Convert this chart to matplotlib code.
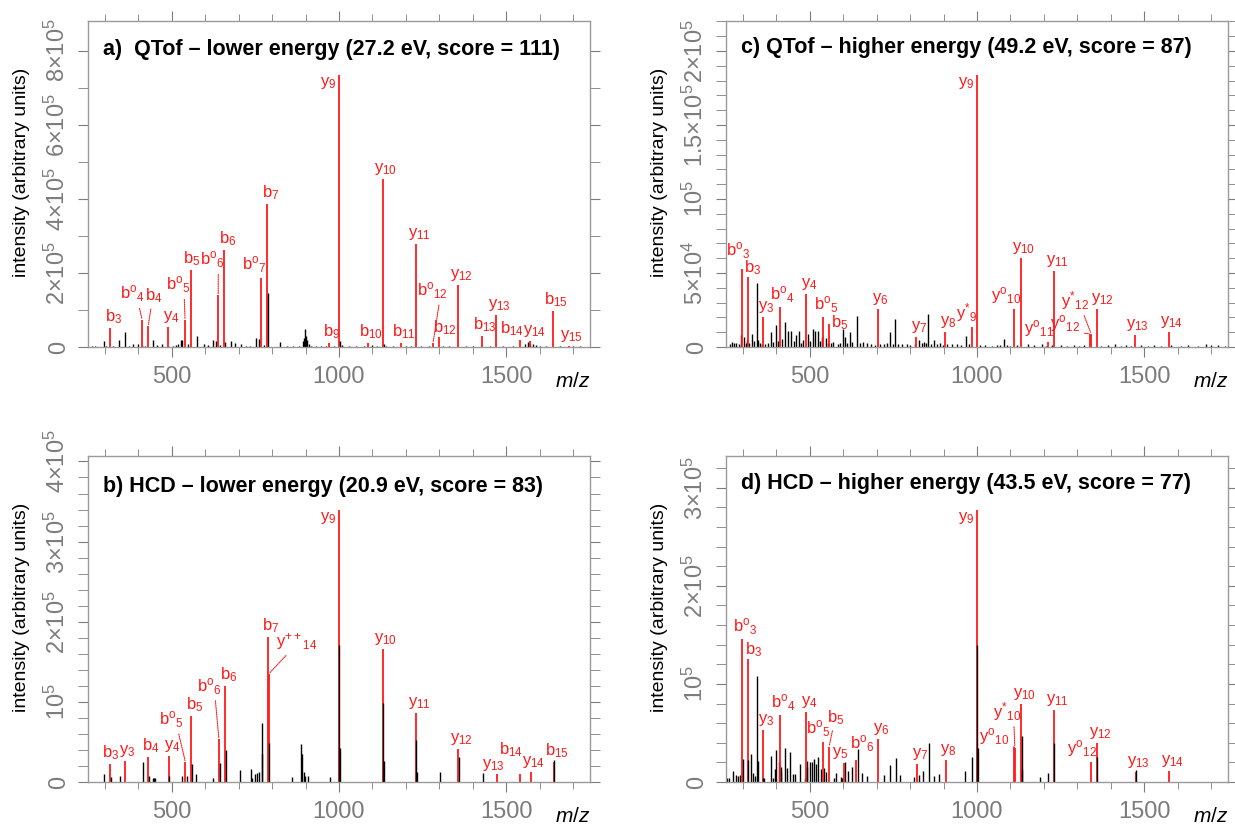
import re
import numpy as np
import matplotlib
matplotlib.use('Agg')
import matplotlib.pyplot as plt
from matplotlib.ticker import MultipleLocator

plt.rcParams['font.family'] = ['Liberation Sans', 'DejaVu Sans']
plt.rcParams['mathtext.fontset'] = 'custom'
plt.rcParams['mathtext.rm'] = 'Liberation Sans'
plt.rcParams['mathtext.it'] = 'Liberation Sans:italic'

RED = '#ff1a1a'
GREY = '#7c7c7c'

# ---------------- a) QTof - lower energy ----------------
a_title = 'a)  QTof \u2013 lower energy (27.2 eV, score = 111)'
a_ions = ['b3', 'bo4', 'b4', 'y4', 'bo5', 'b5', 'bo6', 'b6', 'bo7', 'b7', 'b9', 'y9', 'b10',
          'y10', 'b11', 'y11', 'bo12', 'b12', 'y12', 'b13', 'y13', 'b14', 'y14', 'b15', 'y15']
a_ion_mz = [317, 412, 430, 489, 540, 559, 639, 657, 768, 786, 969, 1000, 1086,
            1131, 1186, 1230, 1281, 1298, 1357, 1427, 1470, 1541, 1572, 1639, 1686]
a_ion_int = [5.1e4, 7.2e4, 5.7e4, 5.4e4, 7.2e4, 2.09e5, 1.39e5, 2.61e5, 1.85e5, 3.87e5, 1.0e4, 7.33e5, 1.2e4,
             4.54e5, 1.0e4, 2.79e5, 1.1e4, 2.7e4, 1.68e5, 3.1e4, 8.5e4, 1.8e4, 1.6e4, 9.6e4, 3e3]
a_bk_mz = [262, 270, 298, 305, 325, 343, 361, 372, 384, 399, 412, 420, 444, 455, 472, 490, 505, 512,
           520, 528, 532, 548, 576, 596, 610, 623, 631, 645, 660, 677, 690, 707, 722, 735, 753, 761,
           775, 825, 845, 862, 880, 891, 895, 898, 901, 905, 909, 915, 930, 945, 960, 985, 1010, 1030,
           1050, 1075, 1100, 1115, 1140, 1160, 1200, 1215, 1245, 1270, 1310, 1330, 1380, 1400, 1450,
           1490, 1520, 1555, 1565, 1570, 1580, 1590, 1600, 1620, 1660, 1700, 1720]
a_bk_int = [3e3, 2e3, 1.6e4, 4e3, 3e3, 1.8e4, 4e4, 4e3, 7e3, 9e3, 5e3, 4e3, 1.8e4, 5e3, 7e3, 4e3, 3e3, 6e3,
            9e3, 1.8e4, 2e4, 8e3, 2.9e4, 9e3, 5e3, 2e4, 1.6e4, 5e3, 1.3e4, 1.6e4, 1.1e4, 7e3, 3e3, 4e3, 2.4e4, 2.2e4,
            5e3, 1.3e4, 3e3, 3e3, 4e3, 1.5e4, 2.5e4, 4.8e4, 3e4, 1.8e4, 8e3, 4e3, 3e3, 2e3, 3e3, 3e3, 5e3, 3e3,
            2e3, 3e3, 5e3, 4e3, 4e3, 3e3, 3e3, 4e3, 4e3, 3e3, 3e3, 4e3, 2e3, 3e3, 2e3,
            3e3, 2e3, 8e3, 1.3e4, 9e3, 7e3, 5e3, 3e3, 3e3, 2e3, 3e3, 2e3]
a_iso_mz = [789, 1003, 1134]
a_iso_int = [1.45e5, 1.5e4, 8e3]

# ---------------- b) HCD - lower energy ----------------
b_title = 'b) HCD \u2013 lower energy (20.9 eV, score = 83)'
b_ions = ['b3', 'y3', 'b4', 'y4', 'bo5', 'b5', 'bo6', 'b6', 'b7', 'y++14', 'y9', 'y10', 'y11',
          'y12', 'y13', 'b14', 'y14', 'b15']
b_ion_mz = [317, 361, 430, 492, 541, 559, 641, 660, 788, 790, 1000, 1131, 1230, 1357, 1471, 1542, 1573, 1641]
b_ion_int = [2.2e4, 2.6e4, 3.1e4, 3.3e4, 2.5e4, 8.2e4, 5.4e4, 1.2e5, 1.81e5, 1.35e5, 3.39e5, 1.66e5, 8.6e4,
             4.1e4, 1.0e4, 1.0e4, 1.2e4, 2.5e4]
b_bk_mz = [299, 345, 413, 444, 448, 451, 531, 545, 574, 623, 704, 737, 740, 750, 755, 760, 769, 771,
           860, 887, 889, 895, 898, 907, 972, 1302, 1430]
b_bk_int = [1.04e4, 7e3, 2.5e4, 5.4e3, 5.4e3, 5.4e3, 7e3, 7e3, 1.04e4, 5.4e3, 1.46e4, 1.67e4, 5e3, 1.04e4,
            1.1e4, 1.2e4, 7.4e4, 3.5e4, 6e3, 4.7e4, 3.5e4, 1.3e4, 7e3, 7e3, 6.7e3, 1.3e4, 1.1e4]
b_iso_mz = [318, 431, 493, 561, 643, 662, 790, 1001, 1002, 1132, 1133, 1231, 1232, 1358, 1642]
b_iso_int = [6e3, 7e3, 8e3, 2.2e4, 2.4e4, 4e4, 4.9e4, 1.71e5, 4.2e4, 9.9e4, 2.6e4, 5.3e4, 1.3e4, 3.1e4, 2.8e4]

# ---------------- c) QTof - higher energy ----------------
c_title = 'c) QTof \u2013 higher energy (49.2 eV, score = 87)'
c_ions = ['bo3', 'b3', 'y3', 'bo4', 'y4', 'bo5', 'b5', 'y6', 'y7', 'y8', 'y*9', 'y9', 'yo10', 'y10',
          'yo11', 'y11', 'yo12', 'y*12', 'y12', 'y13', 'y14']
c_ion_mz = [297, 315, 360, 410, 489, 540, 559, 703, 819, 904, 985, 1000, 1112, 1131,
            1212, 1230, 1339, 1341, 1359, 1471, 1573]
c_ion_int = [5.25e4, 4.7e4, 2.05e4, 2.7e4, 3.6e4, 2.0e4, 1.55e4, 2.56e4, 7e3, 1.02e4, 1.32e4, 1.835e5, 2.55e4, 6.0e4,
             3.6e3, 5.15e4, 9e3, 9e3, 2.6e4, 8e3, 1.02e4]
c_bk_mz = [262, 268, 274, 281, 288, 296, 304, 309, 314, 320, 327, 335, 342, 347, 352, 358, 367, 375, 383,
           391, 400, 405, 418, 426, 434, 444, 452, 459, 469, 475, 480, 495, 502, 510, 516, 525, 530, 536,
           549, 555, 565, 571, 585, 592, 600, 607, 613, 620, 627, 641, 650, 658, 670, 684, 695, 710, 722,
           731, 740, 748, 755, 765, 776, 790, 800, 815, 827, 835, 842, 848, 855, 863, 872, 880, 888, 897,
           910, 925, 939, 952, 967, 975, 1010, 1025, 1045, 1060, 1070, 1082, 1090, 1100, 1120, 1153, 1170,
           1194, 1205, 1225, 1250, 1270, 1291, 1305, 1320, 1370, 1390, 1413, 1430, 1445, 1460, 1490, 1510,
           1530, 1550, 1580, 1610, 1630, 1660, 1684, 1700, 1720, 1740]
c_bk_int = [2e3, 3.5e3, 2.5e3, 3e3, 2e3, 8e3, 6.8e3, 3e3, 4.5e3, 3e3, 9e3, 4e3, 4.3e4, 5e3, 2.7e3, 2e3, 2.2e3, 3e3, 9.8e3,
            3.5e3, 1.5e4, 4e3, 5.5e3, 1.7e4, 1.1e4, 1.1e4, 4e3, 8e3, 1.1e4, 3e3, 4.5e3, 9e3, 4e3, 1.2e4, 1.1e4, 1.1e4, 4e3, 7e3,
            6e3, 3e3, 2.5e3, 3.5e3, 2e3, 3e3, 1.2e4, 7e3, 3e3, 1e4, 3.5e3, 2.1e4, 3e3, 3.5e3, 2.5e3, 2e3, 1.5e3, 2e3, 2e3,
            3e3, 1e4, 2e3, 1.9e4, 2e3, 2.2e3, 2e3, 1.5e3, 2e3, 5e3, 3e3, 3.5e3, 2.5e3, 2.2e4, 2e3, 4.5e3, 2e3, 2.7e3, 1.5e3,
            2e3, 2e3, 2.2e3, 1.5e3, 7.3e3, 2e3, 1.5e3, 1.5e3, 1e3, 1.5e3, 1.2e3, 5.7e3, 1.5e3, 1e3, 1.5e3, 2e3, 1.2e3,
            2e3, 1e3, 1.5e3, 1.2e3, 1e3, 1.5e3, 1e3, 1.2e3, 1e3, 1.2e3, 1.8e3, 1e3, 1.2e3, 1e3, 1.2e3, 1e3,
            1.2e3, 1e3, 1.5e3, 1e3, 1.2e3, 1e3, 1.8e3, 1.2e3, 1.5e3, 1e3]
c_iso_mz = []
c_iso_int = []

# ---------------- d) HCD - higher energy ----------------
d_title = 'd) HCD \u2013 higher energy (43.5 eV, score = 77)'
d_ions = ['bo3', 'b3', 'y3', 'bo4', 'y4', 'bo5', 'b5', 'y5', 'bo6', 'y6', 'y7', 'y8', 'y9', 'yo10',
          'y*10', 'y10', 'y11', 'yo12', 'y12', 'y13', 'y14']
d_ion_mz = [298, 315, 360, 411, 489, 539, 558, 602, 639, 705, 820, 906, 1000, 1111,
            1113, 1132, 1230, 1340, 1359, 1474, 1575]
d_ion_int = [1.46e5, 1.25e5, 5.3e4, 6.8e4, 7.1e4, 4.1e4, 3.6e4, 1.9e4, 2.2e4, 4.4e4, 1.8e4, 2.2e4, 2.77e5, 3.56e4,
             3.5e4, 8.0e4, 7.3e4, 2.0e4, 4.0e4, 1.0e4, 1.1e4]
d_bk_mz = [253, 260, 272, 280, 287, 293, 325, 330, 338, 343, 347, 365, 383, 391, 395, 400, 408, 415, 427,
           432, 442, 450, 457, 471, 485, 493, 500, 506, 513, 518, 526, 533, 543, 550, 573, 580, 593, 597,
           607, 615, 625, 643, 655, 670, 723, 740, 757, 770, 813, 827, 840, 857, 873, 887, 965, 984,
           1187, 1212]
d_bk_int = [4.4e3, 4.4e3, 1.1e4, 6.8e3, 6e3, 6.8e3, 2.9e4, 8.8e3, 6e3, 1.08e5, 2.1e4, 4.4e3, 2.7e4, 4.4e3, 1.3e4,
            3.3e4, 2e4, 1.1e4, 3.5e4, 1.4e4, 3.1e4, 8.5e3, 7.8e3, 1.8e4, 4.4e3, 2.1e4, 2e4, 2e4, 2.3e4, 1.8e4,
            2.5e4, 1.3e4, 1.4e4, 1e4, 4.4e3, 8.8e3, 5.4e3, 4.4e3, 2e4, 1.1e4, 1.5e4, 3.4e4, 9.5e3, 6e3, 6.8e3,
            1.7e4, 2.4e4, 6.8e3, 5.4e3, 6.8e3, 1.1e4, 4.0e4, 6e3, 7.8e3, 1.1e4, 2.5e4, 5e3, 8.8e3]
d_iso_mz = [300, 317, 361, 413, 491, 1001, 1003, 1133, 1134, 1231, 1360, 1475]
d_iso_int = [2.3e4, 2.2e4, 4e3, 1.5e4, 1.5e4, 1.4e5, 3.5e4, 4.7e4, 1.3e4, 4e4, 2.6e4, 1.2e4]

# label placement: (dx px, dy px, leader line)  -- default is centred just above the peak
a_place = {'y9': 'left', 'bo4': (-10, 16, True), 'b4': (6, 21, True), 'bo5': (-7, 25, True),
           'bo6': (-6, 25, True), 'bo7': (-7, 3, False), 'bo12': (-1, 42, True), 'b12': (6, 0, False),
           'b5': (0, 2, False), 'b14': (-8, 2, False), 'y14': (4, 2, False)}
b_place = {'y9': 'left', 'bo5': (-14, 32, True), 'bo6': (-10, 42, True), 'y++14': (28, 22, True),
           'b3': (0, 2, False), 'y3': (2, 2, False), 'b14': (-9, 15, False), 'y14': (3, 2, False),
           'y13': (-3, 1, False)}
c_place = {'y9': 'left', 'bo3': (-4, 8, False), 'b3': (5, 0, False), 'b5': (10, -8, False),
           'y*9': (-5, 3, False), 'yo10': (-8, 3, False), 'yo11': (-9, 3, False),
           'y*12': (-16, 22, True), 'yo12': (-25, 0, True), 'y12': (5, 2, False)}
d_place = {'y9': 'left', 'b3': (6, 0, False), 'bo5': (-4, 3, False), 'b5': (7, 20, True),
           'y*10': (-8, 25, True), 'yo10': (-20, 0, True), 'yo12': (-9, 3, False),
           'y5': (-4, 2, False), 'bo6': (6, 6, False)}


def ion_text(s):
    base, mod, num = re.match(r'([a-z])(o|\*|\+\+)?(\d+)', s).groups()
    if mod:
        return r'$\mathregular{%s^{%s}{}_{%s}}$' % (base, mod, num)
    return r'$\mathregular{%s_{%s}}$' % (base, num)


def sci(v):
    if v == 0:
        return '0'
    e = int(np.floor(np.log10(v) + 1e-9))
    m = '%g' % (v / 10 ** e)
    if m == '1':
        return r'$\mathregular{10^{%d}}$' % e
    return r'$\mathregular{%s{\times}10^{%d}}$' % (m, e)


def panel(ax, title, ions, mz, inten, bk_mz, bk_int, iso_mz, iso_int, place, major, minor, title_y):
    ax.vlines(bk_mz, 0, bk_int, color='black', lw=1.0)
    ax.vlines(mz, 0, inten, color=RED, lw=1.3)
    ax.vlines(iso_mz, 0, iso_int, color='black', lw=1.0)
    ymax = 1.2 * max(inten)
    ax.set_xlim(250, 1750)
    ax.set_ylim(0, ymax)

    for name, x, y in zip(ions, mz, inten):
        p = place.get(name, (3, 2, False))
        txt = ion_text(name)
        if p == 'left':
            ax.annotate(txt, (x, y), xytext=(-3, 0), textcoords='offset pixels', ha='right', va='top',
                        color=RED, fontsize=12)
            continue
        dx, dy, lead = p
        kw = {}
        if lead:
            kw['arrowprops'] = dict(arrowstyle='-', color=RED, lw=0.8, linestyle=(0, (1, 1)),
                                    shrinkA=1, shrinkB=1, relpos=(0.75 if dx < 0 else 0.35, 0.05))
        ax.annotate(txt, (x, y), xytext=(dx, dy), textcoords='offset pixels', ha='center', va='bottom',
                    color=RED, fontsize=12, **kw)

    ax.text(0.03, title_y, title, transform=ax.transAxes, ha='left', va='center',
            fontsize=15.5, fontweight='bold')

    ax.xaxis.set_major_locator(MultipleLocator(500))
    ax.xaxis.set_minor_locator(MultipleLocator(100))
    ax.yaxis.set_minor_locator(MultipleLocator(minor))
    yt = [v for v in np.arange(0, ymax + 1, major)]
    ax.set_yticks(yt)
    ax.set_yticklabels([sci(v) for v in yt], rotation=90, va='center')
    ax.tick_params(axis='both', which='both', direction='out', colors=GREY, top=True, right=True,
                   labeltop=False, labelright=False)
    ax.tick_params(axis='x', which='major', length=7.5, pad=6, labelsize=17)
    ax.tick_params(axis='x', which='minor', length=5)
    ax.tick_params(axis='y', which='both', length=7, pad=6, labelsize=17)
    for sp in ax.spines.values():
        sp.set_color('#9a9a9a')
        sp.set_linewidth(1.0)
    ax.set_ylabel('intensity (arbitrary units)', fontsize=14, color='black')
    ax.yaxis.set_label_coords(-0.115, 0.535)
    ax.text(1.0, -0.105, '$m$/$z$', transform=ax.transAxes, ha='right', va='center', fontsize=15)


fig = plt.figure(figsize=(12.35, 8.33), dpi=100)
W, H = 1235, 833
ax_a = fig.add_axes([88 / W, (H - 347) / H, 502 / W, 326 / H])
ax_b = fig.add_axes([88 / W, (H - 782) / H, 502 / W, 326 / H])
ax_c = fig.add_axes([726 / W, (H - 347) / H, 502 / W, 326 / H])
ax_d = fig.add_axes([726 / W, (H - 782) / H, 502 / W, 326 / H])

panel(ax_a, a_title, a_ions, a_ion_mz, a_ion_int, a_bk_mz, a_bk_int, a_iso_mz, a_iso_int, a_place, 2e5, 1e5, 0.914)
panel(ax_b, b_title, b_ions, b_ion_mz, b_ion_int, b_bk_mz, b_bk_int, b_iso_mz, b_iso_int, b_place, 1e5, 2e4, 0.905)
panel(ax_c, c_title, c_ions, c_ion_mz, c_ion_int, c_bk_mz, c_bk_int, c_iso_mz, c_iso_int, c_place, 5e4, 1e4, 0.92)
panel(ax_d, d_title, d_ions, d_ion_mz, d_ion_int, d_bk_mz, d_bk_int, d_iso_mz, d_iso_int, d_place, 1e5, 2e4, 0.917)

fig.savefig('out.png', dpi=100)
